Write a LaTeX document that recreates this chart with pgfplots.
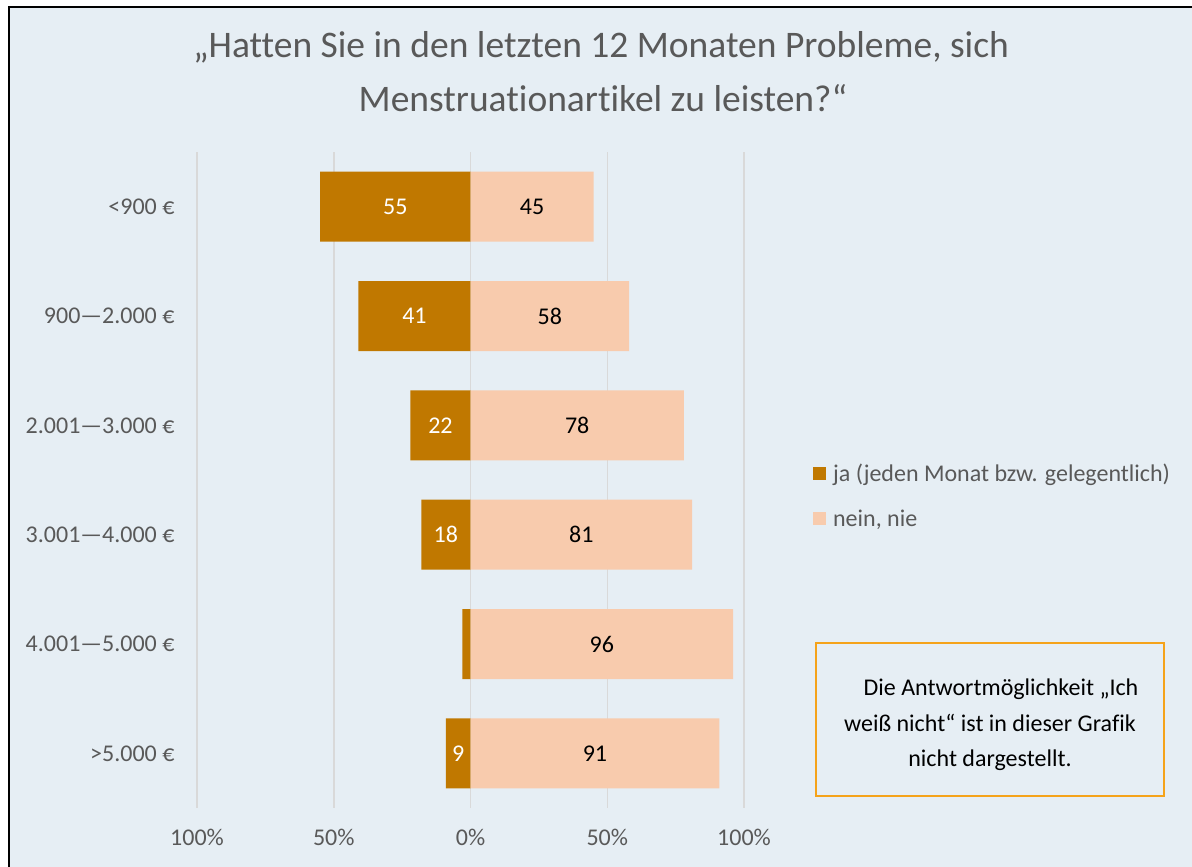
\documentclass[border=0pt]{standalone}
\usepackage{pgfplots}
\pgfplotsset{compat=1.18}
\usepackage{fontspec}
\setmainfont{Carlito}[Ligatures=NoCommon]
\definecolor{bg}{HTML}{E6EEF4}
\definecolor{dark}{HTML}{C07800}
\definecolor{peach}{HTML}{F8CBAD}
\definecolor{gridc}{HTML}{D9D9D9}
\definecolor{txt}{HTML}{595959}
\definecolor{boxc}{HTML}{F5A31A}
\begin{document}
\begin{tikzpicture}
\path[use as bounding box] (0pt,0pt) rectangle (1192pt,867pt);
\fill[white] (0pt,0pt) rectangle (1192pt,867pt);
\fill[bg] (9pt,0pt) rectangle (1192pt,860pt);
\draw[black, line width=2.5pt] (9pt,0pt) -- (9pt,860pt) -- (1192pt,860pt);
\node[text=txt, font=\fontsize{37.5}{45}\selectfont] at (601pt,820pt) {„Hatten Sie in den letzten 12 Monaten Probleme, sich};
\node[text=txt, font=\fontsize{37.5}{45}\selectfont] at (603pt,769pt) {Menstruationartikel zu leisten?“};
\begin{axis}[
  at={(197pt,59pt)}, anchor=south west, scale only axis,
  width=547pt, height=656pt,
  xmin=-100, xmax=100, ymin=-0.5, ymax=5.5, y dir=reverse,
  axis line style={draw=none}, major tick length=0pt,
  xmajorgrids, grid style={color=gridc, line width=1.5pt},
  xtick={-100,-50,0,50,100},
  xticklabels={100\%,50\%,0\%,50\%,100\%},
  ytick={0,1,2,3,4,5},
  yticklabels={<900 €,900—2.000 €,2.001—3.000 €,3.001—4.000 €,4.001—5.000 €,>5.000 €},
  ticklabel style={font=\fontsize{24}{28}\selectfont, text=txt},
  /pgf/number format/assume math mode=true,
  xticklabel style={yshift=-18pt},
  yticklabel style={xshift=-19pt},
  legend image code/.code={\fill[#1] (0pt,-6.5pt) rectangle (13pt,6.5pt);},
  legend style={at={(1.126,0.476)}, anchor=west, draw=none, fill=none,
    font=\fontsize{24}{28}\selectfont, text=txt, row sep=23pt, inner sep=0pt,
    /tikz/every odd column/.append style={column sep=5pt}},
  legend cell align=left,
]
\addplot[xbar, bar width=70pt, bar shift=0pt, fill=dark, draw=none]
  coordinates {(-55,0) (-41,1) (-22,2) (-18,3) (-3,4) (-9,5)};
\addlegendentry{ja (jeden Monat bzw. gelegentlich)}
\addplot[xbar, bar width=70pt, bar shift=0pt, fill=peach, draw=none]
  coordinates {(45,0) (58,1) (78,2) (81,3) (96,4) (91,5)};
\addlegendentry{nein, nie}
\addplot[draw=none, mark=none, forget plot, nodes near coords, point meta=explicit symbolic,
  nodes near coords style={anchor=center, text=white, font=\fontsize{24}{28}\selectfont}]
  coordinates {(-27.5,0)[55] (-20.5,1)[41] (-11,2)[22] (-9,3)[18] (-4.5,5)[9]};
\addplot[draw=none, mark=none, forget plot, nodes near coords, point meta=explicit symbolic,
  nodes near coords style={anchor=center, text=black, font=\fontsize{24}{28}\selectfont}]
  coordinates {(22.5,0)[45] (29,1)[58] (39,2)[78] (40.5,3)[81] (48,4)[96] (45.5,5)[91]};
\end{axis}
\draw[boxc, line width=2pt] (816pt,71pt) rectangle (1164pt,224pt);
\node[align=center, font=\fontsize{24}{35.5}\selectfont, text=black] at (990pt,142pt)
  {\hspace{22pt}Die Antwortmöglichkeit „Ich\\weiß nicht“ ist in dieser Grafik\\nicht dargestellt.};
\end{tikzpicture}
\end{document}
